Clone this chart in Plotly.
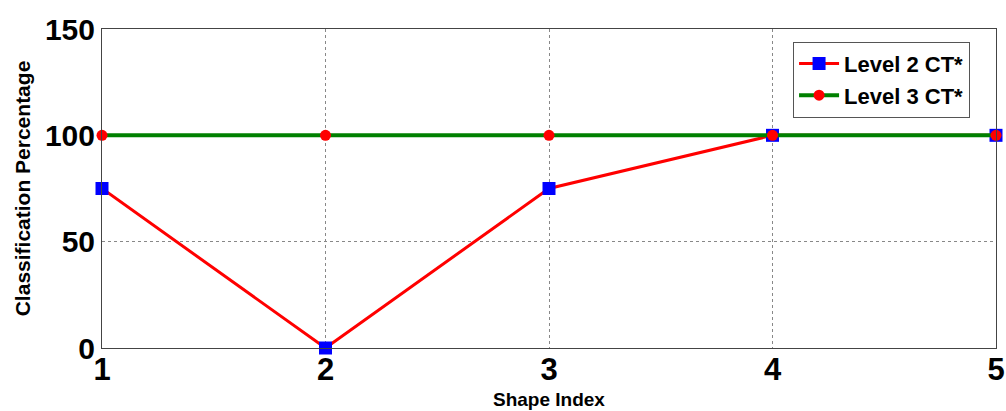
import plotly.graph_objects as go

# Shape index values and classification percentages per level
shape_index = [1, 2, 3, 4, 5]
level2_pct = [75, 0, 75, 100, 100]
level3_pct = [100, 100, 100, 100, 100]

x_ticks = [1, 2, 3, 4, 5]
y_ticks = [0, 50, 100, 150]

FONT = "Arial, Liberation Sans, sans-serif"

fig = go.Figure()
fig.add_trace(go.Scatter(
    x=shape_index, y=level2_pct, name="Level 2 CT*",
    mode="lines+markers",
    line=dict(color="#ff0000", width=3),
    marker=dict(symbol="square", color="#0000ff", size=13),
    cliponaxis=False,
))
fig.add_trace(go.Scatter(
    x=shape_index, y=level3_pct, name="Level 3 CT*",
    mode="lines+markers",
    line=dict(color="#008000", width=4),
    marker=dict(symbol="circle", color="#ff0000", size=11),
    cliponaxis=False,
))

fig.update_layout(
    template="none",
    width=1006, height=411,
    margin=dict(l=102, r=10, t=29, b=63),
    paper_bgcolor="white", plot_bgcolor="white",
    font=dict(family=FONT, color="black"),
    showlegend=True,
    legend=dict(
        x=0.773, y=0.96, xanchor="left", yanchor="top",
        bgcolor="white", bordercolor="#555555", borderwidth=1,
        font=dict(family=FONT, size=22, weight="bold", color="black"),
        tracegroupgap=0, itemwidth=40,
    ),
    xaxis=dict(
        range=[1, 5], tickvals=x_ticks, ticktext=[str(v) for v in x_ticks],
        tickfont=dict(family=FONT, size=31, weight="bold"),
        ticklabelstandoff=-6,
        showgrid=True, gridcolor="#888888", griddash="dot", gridwidth=1,
        showline=True, linecolor="#444444", linewidth=1, mirror=True,
        ticks="", zeroline=False, automargin=False,
    ),
    yaxis=dict(
        range=[0, 150], tickvals=y_ticks, ticktext=[str(v) for v in y_ticks],
        tickfont=dict(family=FONT, size=30, weight="bold"),
        showgrid=True, gridcolor="#888888", griddash="dot", gridwidth=1,
        showline=True, linecolor="#444444", linewidth=1, mirror=True,
        ticks="", zeroline=False, automargin=False,
        title=dict(text="Classification Percentage", font=dict(family=FONT, size=21, weight="bold"), standoff=8),
    ),
    annotations=[dict(
        text="Shape Index", xref="paper", yref="paper", x=0.5, y=-0.163,
        xanchor="center", yanchor="middle", showarrow=False,
        font=dict(family=FONT, size=19, weight="bold", color="black"),
    )],
)

fig.write_html("out.html")
